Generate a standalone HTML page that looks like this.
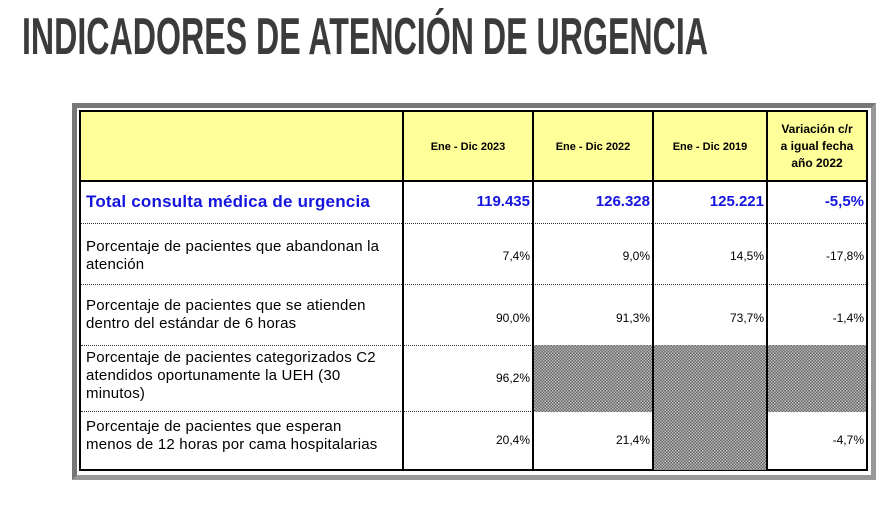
<!DOCTYPE html>
<html><head><meta charset="utf-8"><style>
body{margin:0;width:886px;height:511px;background:#fff;position:relative;overflow:hidden;font-family:"Liberation Sans",Arial,sans-serif}
.a{position:absolute;box-sizing:border-box}
.vl{position:absolute;width:2px;background:#000}
.hl{position:absolute;height:2px;background:#000}
.dl{position:absolute;height:0;border-top:1px dotted #333}
.lab{position:absolute;left:86px;font-size:15px;line-height:18px;color:#000;letter-spacing:0.2px}
.num{position:absolute;font-size:12px;text-align:right;color:#000}
.hd{position:absolute;font-size:11px;font-weight:bold;text-align:center;color:#000;line-height:17px}
.big{position:absolute;font-size:15px;font-weight:bold;color:#1515e0;text-align:right}
.pat{position:absolute;background-color:#999;background-image:repeating-conic-gradient(#666 0 25%,#bbb 0 50%);background-size:3px 3px}
</style></head><body>
<svg class="a" style="left:0;top:0" width="886" height="70">
<text x="22" y="54" font-family="Liberation Sans Narrow, Liberation Sans, sans-serif" font-weight="bold" font-size="52" fill="#3b3b3b" textLength="686" lengthAdjust="spacingAndGlyphs">INDICADORES DE ATENCIÓN DE URGENCIA</text>
</svg>
<div class="a" style="left:72px;top:103px;width:804px;height:377px;border:5px solid #777;border-right-color:#999;border-bottom-color:#999;background:#fff"></div>
<div class="a" style="left:79px;top:110px;width:789px;height:361px;border:2px solid #000;background:#fff"></div>
<div class="a" style="left:81px;top:112px;width:785px;height:69px;background:#ffff99"></div>
<div class="pat" style="left:534px;top:345px;width:332px;height:67px"></div>
<div class="pat" style="left:654px;top:411px;width:113px;height:59px"></div>
<div class="hl" style="left:81px;top:180px;width:785px"></div>
<div class="dl" style="left:81px;top:223px;width:785px"></div>
<div class="dl" style="left:81px;top:284px;width:785px"></div>
<div class="dl" style="left:81px;top:345px;width:452px"></div>
<div class="dl" style="left:81px;top:411px;width:452px"></div>
<div class="vl" style="left:402px;top:112px;height:358px"></div>
<div class="vl" style="left:532px;top:112px;height:358px"></div>
<div class="vl" style="left:652px;top:112px;height:358px"></div>
<div class="vl" style="left:766px;top:112px;height:358px"></div>
<div class="hd" style="left:404px;top:139px;width:128px">Ene - Dic 2023</div>
<div class="hd" style="left:534px;top:139px;width:118px">Ene - Dic 2022</div>
<div class="hd" style="left:654px;top:139px;width:112px">Ene - Dic 2019</div>
<div class="hd" style="left:768px;top:121px;width:98px;font-size:12px">Variación c/r<br>a igual fecha<br>año 2022</div>
<div class="lab" style="top:193px;font-size:17px;font-weight:bold;color:#1515e0">Total consulta médica de urgencia</div>
<div class="big" style="left:404px;top:193px;width:126px">119.435</div>
<div class="big" style="left:534px;top:193px;width:116px">126.328</div>
<div class="big" style="left:654px;top:193px;width:110px">125.221</div>
<div class="big" style="left:768px;top:193px;width:96px">-5,5%</div>
<div class="lab" style="top:238px">Porcentaje de pacientes que abandonan la<br>atención</div>
<div class="num" style="left:404px;top:249px;width:126px">7,4%</div>
<div class="num" style="left:534px;top:249px;width:116px">9,0%</div>
<div class="num" style="left:654px;top:249px;width:110px">14,5%</div>
<div class="num" style="left:768px;top:249px;width:96px">-17,8%</div>
<div class="lab" style="top:297px">Porcentaje de pacientes que se atienden<br>dentro del estándar de 6 horas</div>
<div class="num" style="left:404px;top:311px;width:126px">90,0%</div>
<div class="num" style="left:534px;top:311px;width:116px">91,3%</div>
<div class="num" style="left:654px;top:311px;width:110px">73,7%</div>
<div class="num" style="left:768px;top:311px;width:96px">-1,4%</div>
<div class="lab" style="top:349px">Porcentaje de pacientes categorizados C2<br>atendidos oportunamente la UEH (30<br>minutos)</div>
<div class="num" style="left:404px;top:371px;width:126px">96,2%</div>
<div class="lab" style="top:418px">Porcentaje de pacientes que esperan<br>menos de 12 horas por cama hospitalarias</div>
<div class="num" style="left:404px;top:433px;width:126px">20,4%</div>
<div class="num" style="left:534px;top:433px;width:116px">21,4%</div>
<div class="num" style="left:768px;top:433px;width:96px">-4,7%</div>
</body></html>
